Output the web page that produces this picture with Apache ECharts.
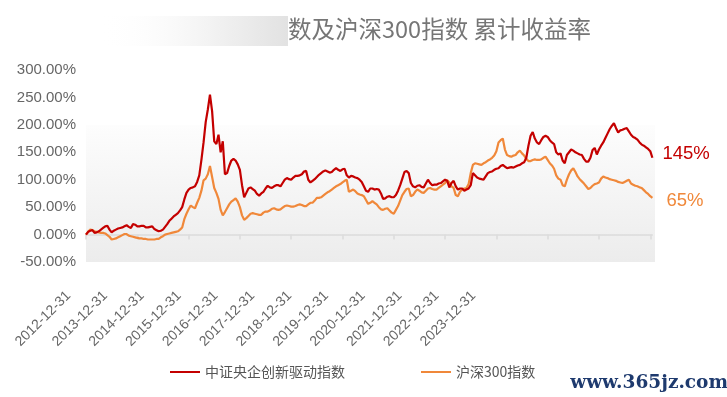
<!DOCTYPE html>
<html><head><meta charset="utf-8">
<script src="https://cdn.jsdelivr.net/npm/echarts@6/dist/echarts.min.js"></script>
<style>html,body{margin:0;padding:0;background:#fff}#c{width:727px;height:397px}</style>
</head><body><div id="c"></div>
<script>
const dates = [
'2012-12-31',
'2013-01-15','2013-01-31','2013-02-15','2013-02-28','2013-03-15','2013-03-31','2013-04-15','2013-04-30','2013-05-15','2013-05-31','2013-06-15','2013-06-30','2013-07-15','2013-07-31','2013-08-15','2013-08-31','2013-09-15','2013-09-30','2013-10-15','2013-10-31','2013-11-15','2013-11-30','2013-12-15','2013-12-31',
'2014-01-15','2014-01-31','2014-02-15','2014-02-28','2014-03-15','2014-03-31','2014-04-15','2014-04-30','2014-05-15','2014-05-31','2014-06-15','2014-06-30','2014-07-15','2014-07-31','2014-08-15','2014-08-31','2014-09-15','2014-09-30','2014-10-15','2014-10-31','2014-11-15','2014-11-30','2014-12-15','2014-12-31',
'2015-01-15','2015-01-31','2015-02-15','2015-02-28','2015-03-15','2015-03-31','2015-04-15','2015-04-30','2015-05-15','2015-05-31','2015-06-15','2015-06-30','2015-07-15','2015-07-31','2015-08-15','2015-08-31','2015-09-15','2015-09-30','2015-10-15','2015-10-31','2015-11-15','2015-11-30','2015-12-15','2015-12-31',
'2016-01-15','2016-01-31','2016-02-15','2016-02-29','2016-03-15','2016-03-31','2016-04-15','2016-04-30','2016-05-15','2016-05-31','2016-06-15','2016-06-30','2016-07-15','2016-07-31','2016-08-15','2016-08-31','2016-09-15','2016-09-30','2016-10-15','2016-10-31','2016-11-15','2016-11-30','2016-12-15','2016-12-31',
'2017-01-15','2017-01-31','2017-02-15','2017-02-28','2017-03-15','2017-03-31','2017-04-15','2017-04-30','2017-05-15','2017-05-31','2017-06-15','2017-06-30','2017-07-15','2017-07-31','2017-08-15','2017-08-31','2017-09-15','2017-09-30','2017-10-15','2017-10-31','2017-11-15','2017-11-30','2017-12-15','2017-12-31',
'2018-01-15','2018-01-31','2018-02-15','2018-02-28','2018-03-15','2018-03-31','2018-04-15','2018-04-30','2018-05-15','2018-05-31','2018-06-15','2018-06-30','2018-07-15','2018-07-31','2018-08-15','2018-08-31','2018-09-15','2018-09-30','2018-10-15','2018-10-31','2018-11-15','2018-11-30','2018-12-15','2018-12-31',
'2019-01-15','2019-01-31','2019-02-15','2019-02-28','2019-03-15','2019-03-31','2019-04-15','2019-04-30','2019-05-15','2019-05-31','2019-06-15','2019-06-30','2019-07-15','2019-07-31','2019-08-15','2019-08-31','2019-09-15','2019-09-30','2019-10-15','2019-10-31','2019-11-15','2019-11-30','2019-12-15','2019-12-31',
'2020-01-15','2020-01-31','2020-02-15','2020-02-29','2020-03-15','2020-03-31','2020-04-15','2020-04-30','2020-05-15','2020-05-31','2020-06-15','2020-06-30','2020-07-15','2020-07-31','2020-08-15','2020-08-31','2020-09-15','2020-09-30','2020-10-15','2020-10-31','2020-11-15','2020-11-30','2020-12-15','2020-12-31',
'2021-01-15','2021-01-31','2021-02-15','2021-02-28','2021-03-15','2021-03-31','2021-04-15','2021-04-30','2021-05-15','2021-05-31','2021-06-15','2021-06-30','2021-07-15','2021-07-31','2021-08-15','2021-08-31','2021-09-15','2021-09-30','2021-10-15','2021-10-31','2021-11-15','2021-11-30','2021-12-15','2021-12-31',
'2022-01-15','2022-01-31','2022-02-15','2022-02-28','2022-03-15','2022-03-31','2022-04-15','2022-04-30','2022-05-15','2022-05-31','2022-06-15','2022-06-30','2022-07-15','2022-07-31','2022-08-15','2022-08-31','2022-09-15','2022-09-30','2022-10-15','2022-10-31','2022-11-15','2022-11-30','2022-12-15','2022-12-31',
'2023-01-15','2023-01-31','2023-02-15','2023-02-28','2023-03-15','2023-03-31','2023-04-15','2023-04-30','2023-05-15','2023-05-31','2023-06-15','2023-06-30','2023-07-15','2023-07-31','2023-08-15','2023-08-31','2023-09-15','2023-09-30','2023-10-15','2023-10-31','2023-11-15','2023-11-30','2023-12-15','2023-12-31',
'2024-01-15'
];

const seriesNames = ['中证央企创新驱动指数', '沪深300指数'];

// 累计收益率 (%)
const redValues = [
0,
5,7,8,3,4,6,9,12,15,16,9,4,7,9,11,12,13,15,17,14,12,19,18,15,
15,16,16,13,13,14,15,10,8,6,7,9,14,19,25,29,33,36,39,44,50,64,76,82,
85,86,88,96,108,136,168,205,228,255,225,170,165,182,150,170,110,112,125,135,138,135,128,118,
90,68,76,84,86,83,80,74,71,75,78,84,89,86,85,88,90,90,88,94,100,103,101,100,
104,107,107,108,110,115,116,100,95,98,101,105,109,112,115,117,115,113,114,118,121,118,116,119,
120,108,104,107,106,104,103,100,96,88,80,78,84,84,82,83,82,75,65,66,69,70,68,68,
72,80,90,102,114,116,112,94,88,86,89,90,87,86,93,100,94,90,91,91,93,94,97,100,
98,86,94,98,88,82,84,84,80,82,84,90,112,108,104,102,101,100,106,112,114,115,118,120,
121,125,127,124,121,122,123,122,124,126,127,130,132,140,162,180,187,175,168,165,172,178,180,178,
172,168,165,150,146,148,135,130,145,150,155,153,150,148,146,145,138,133,133,140,154,158,146,155,
162,168,176,184,192,198,203,194,186,190,191,193,194,188,182,178,176,173,168,164,162,159,156,152,
140
];

const orangeValues = [
0,
5,9,8,6,5,4,3,3,2,-1,-4,-9,-8,-7,-5,-3,-1,1,1,-2,-3,-4,-5,-6,
-7,-7,-8,-8,-9,-9,-9,-9,-8,-8,-5,-3,0,1,2,3,4,5,6,9,13,28,38,46,
53,50,48,58,67,80,99,102,110,125,105,85,76,65,45,35,41,48,55,60,63,66,60,50,
35,27,30,34,38,39,38,37,36,36,40,42,42,44,47,48,46,45,46,49,52,53,52,51,
51,52,54,55,54,52,52,55,58,58,62,67,67,68,71,74,77,79,82,85,88,90,92,95,
98,100,78,80,82,79,75,73,72,70,63,56,58,61,58,55,50,46,45,47,48,44,40,38,
45,52,62,72,78,83,84,70,72,78,82,80,77,76,80,84,85,83,82,82,85,88,91,94,
99,95,88,85,72,70,78,82,84,85,92,112,127,130,129,128,127,130,132,135,137,140,144,152,
168,172,175,155,145,143,142,144,145,150,153,148,144,138,134,134,136,137,136,136,137,140,142,136,
130,126,120,108,102,100,90,88,100,110,117,121,114,106,101,97,93,88,83,85,89,92,93,95,
102,106,104,103,101,100,99,98,96,95,94,96,98,100,93,91,89,88,86,85,81,77,74,70,
67
];

const yearLabels = ['2012-12-31','2013-12-31','2014-12-31','2015-12-31','2016-12-31','2017-12-31',
  '2018-12-31','2019-12-31','2020-12-31','2021-12-31','2022-12-31','2023-12-31'];
const endLabels = ['145%', '65%'];
const titleText = '数及沪深300指数 累计收益率';
const watermarkText = 'www.365jz.com';

const RED = '#c40000';
const ORANGE = '#f0883a';
const NUM_FONT = "'Liberation Sans', Arial, sans-serif";
const CJK_FONT = "'Noto Sans CJK SC', sans-serif";

const chart = echarts.init(document.getElementById('c'), null, {renderer: 'canvas'});
chart.setOption({
  animation: false,
  backgroundColor: '#ffffff',
  textStyle: {fontFamily: CJK_FONT},
  graphic: [
    {type: 'rect', z: 0, silent: true,
     shape: {x: 86, y: 125, width: 569, height: 137},
     style: {fill: new echarts.graphic.LinearGradient(0, 0, 0, 1, [
       {offset: 0, color: '#fdfdfd'}, {offset: 1, color: '#ececec'}])}},
    {type: 'rect', z: 0, silent: true,
     shape: {x: 100, y: 16, width: 188, height: 30},
     style: {fill: new echarts.graphic.LinearGradient(0, 0, 1, 0, [
       {offset: 0, color: 'rgba(255,255,255,0)'}, {offset: 0.6, color: '#f2f2f2'}, {offset: 1, color: '#e2e2e2'}])}},
    {type: 'text', z: 1, silent: true,
     style: {text: titleText, x: 288, y: 29, textVerticalAlign: 'middle',
             font: '23.5px ' + CJK_FONT, fill: '#767676'}},
    {type: 'text', z: 1, silent: true,
     style: {text: watermarkText, x: 728, y: 383, textAlign: 'right', textVerticalAlign: 'middle',
             font: 'bold 18.5px "DejaVu Serif", serif', fill: '#1e3a6e'}}
  ],
  legend: {
    data: seriesNames, left: 165, top: 360, itemWidth: 30, itemHeight: 2, itemGap: 76,
    icon: 'rect',
    textStyle: {color: '#555', fontSize: 14, fontFamily: CJK_FONT}
  },
  grid: [
    {left: 86, right: 74.6, top: 70, bottom: 135},
    {left: 68.5, width: 405, top: 283, height: 1}
  ],
  xAxis: [
    {type: 'category', gridIndex: 0, data: dates, boundaryGap: false,
     axisLine: {onZero: true, lineStyle: {color: '#dcdcdc', width: 1.5}},
     axisTick: {interval: function (i, v) { return String(v).endsWith('-12-31'); },
                length: 5, lineStyle: {color: '#dcdcdc', width: 1.5}},
     axisLabel: {show: false}, splitLine: {show: false}},
    {type: 'category', gridIndex: 1, data: yearLabels, boundaryGap: false,
     axisLine: {show: false}, axisTick: {show: false},
     axisLabel: {interval: 0, rotate: 45, margin: 9.5, color: '#666', fontSize: 14, fontFamily: NUM_FONT}}
  ],
  yAxis: [
    {type: 'value', gridIndex: 0, min: -50, max: 300, interval: 50,
     axisLabel: {formatter: function (v) { return v.toFixed(2) + '%'; }, color: '#666',
                 fontSize: 15, margin: 10, fontFamily: NUM_FONT},
     axisLine: {show: false}, axisTick: {show: false}, splitLine: {show: false}},
    {type: 'value', gridIndex: 1, show: false}
  ],
  series: [
    {name: seriesNames[0], type: 'line', xAxisIndex: 0, yAxisIndex: 0, data: redValues,
     symbol: 'none', showSymbol: false, z: 4,
     lineStyle: {color: RED, width: 2.2}, itemStyle: {color: RED},
     endLabel: {show: true, formatter: function () { return endLabels[0]; }, color: RED,
                fontSize: 18.5, distance: 10, offset: [0, -4], fontFamily: NUM_FONT}},
    {name: seriesNames[1], type: 'line', xAxisIndex: 0, yAxisIndex: 0, data: orangeValues,
     symbol: 'none', showSymbol: false, z: 3,
     lineStyle: {color: ORANGE, width: 2.2}, itemStyle: {color: ORANGE},
     endLabel: {show: true, formatter: function () { return endLabels[1]; }, color: ORANGE,
                fontSize: 18.5, distance: 14, offset: [0, 3], fontFamily: NUM_FONT}}
  ]
});
</script>
</body></html>
